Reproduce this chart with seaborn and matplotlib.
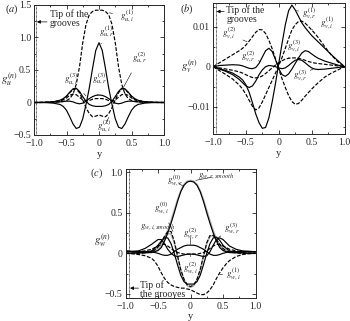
import matplotlib
matplotlib.use('Agg')
import matplotlib.pyplot as plt
import seaborn as sns
import numpy as np
from matplotlib.ticker import MultipleLocator, FuncFormatter

# ============================
# Data (grid of y positions shared by all curves)
# ============================

Y = [-1.0, -0.9, -0.8, -0.7, -0.6, -0.55, -0.5, -0.45, -0.4, -0.35, -0.3, -0.25,
     -0.2, -0.15, -0.1, -0.05, 0.0, 0.05, 0.1, 0.15, 0.2, 0.25, 0.3, 0.35, 0.4,
     0.45, 0.5, 0.55, 0.6, 0.7, 0.8, 0.9, 1.0]

# panel (a): g_u
u_i1 = [0, 0, 0.002, 0.005, 0.01, 0.015, 0.03, 0.06, 0.13, 0.28, 0.55, 0.92, 1.20, 1.35, 1.40, 1.42,
        1.42, 1.42, 1.40, 1.35, 1.20, 0.92, 0.55, 0.28, 0.13, 0.06, 0.03, 0.015, 0.01, 0.005, 0.002, 0, 0]
u_r1 = [0, 0, -0.003, -0.01, -0.03, -0.06, -0.12, -0.22, -0.33, -0.40, -0.38, -0.25, -0.03, 0.22, 0.52, 0.80,
        0.92, 0.80, 0.52, 0.22, -0.03, -0.25, -0.38, -0.40, -0.33, -0.22, -0.12, -0.06, -0.03, -0.01, -0.003, 0, 0]
u_i2 = [0, 0.001, 0.003, 0.01, 0.03, 0.05, 0.09, 0.15, 0.20, 0.21, 0.15, 0.04, -0.08, -0.17, -0.22, -0.21,
        -0.19, -0.21, -0.22, -0.17, -0.08, 0.04, 0.15, 0.21, 0.20, 0.15, 0.09, 0.05, 0.03, 0.01, 0.003, 0.001, 0]
u_r2 = [0, 0.001, 0.004, 0.012, 0.035, 0.06, 0.10, 0.16, 0.21, 0.22, 0.17, 0.09, 0.02, -0.03, -0.05, -0.06,
        -0.06, -0.06, -0.05, -0.03, 0.02, 0.09, 0.17, 0.22, 0.21, 0.16, 0.10, 0.06, 0.035, 0.012, 0.004, 0.001, 0]
u_r3 = [0, 0, 0.002, 0.005, 0.01, 0.015, 0.02, 0.02, 0.01, -0.01, -0.02, -0.01, 0.02, 0.06, 0.09, 0.11,
        0.115, 0.11, 0.09, 0.06, 0.02, -0.01, -0.02, -0.01, 0.01, 0.02, 0.02, 0.015, 0.01, 0.005, 0.002, 0, 0]
u_i3 = [0, 0.001, 0.003, 0.008, 0.02, 0.04, 0.07, 0.11, 0.13, 0.12, 0.08, 0.04, 0.02, 0.03, 0.05, 0.06,
        0.06, 0.06, 0.05, 0.03, 0.02, 0.04, 0.08, 0.12, 0.13, 0.11, 0.07, 0.04, 0.02, 0.008, 0.003, 0.001, 0]

# panel (b): g_v, in units of 1e-3
v_r1 = [0, -0.5, -1.0, -1.6, -2.6, -3.3, -4.5, -6.4, -9.0, -11.8, -14.0, -15.4, -15.2, -12.8, -8.8, -4.2,
        0.8, 5.8, 10.5, 14.0, 15.4, 14.2, 12.6, 11.0, 9.8, 8.8, 7.8, 7.0, 6.2, 4.6, 3.0, 1.5, 0]
v_i1 = [0, -1.0, -2.0, -3.1, -4.6, -5.6, -6.9, -8.4, -9.9, -10.8, -10.3, -8.8, -7.0, -5.2, -3.4, -1.6,
        0.3, 2.3, 4.6, 7.0, 9.2, 10.5, 11.3, 11.4, 10.9, 10.1, 9.2, 8.3, 7.3, 5.0, 2.9, 1.2, 0]
v_i2 = [0, 1.0, 2.0, 3.0, 4.0, 4.6, 5.4, 6.4, 7.5, 8.6, 9.3, 9.2, 8.3, 6.6, 4.5, 2.0,
        -0.6, -3.0, -5.2, -7.2, -8.7, -9.4, -9.2, -8.4, -7.4, -6.5, -5.6, -4.8, -4.0, -2.6, -1.6, -0.8, 0]
v_r2 = [0, 0.3, 0.4, 0.5, 0.4, 0.2, -0.1, -0.4, -0.5, -0.2, 0.8, 2.4, 4.0, 4.6, 3.8, 1.8,
        -0.5, -2.0, -2.4, -1.8, -0.6, 0.8, 2.2, 3.4, 4.0, 3.8, 3.2, 2.6, 2.1, 1.4, 0.9, 0.4, 0]
v_r3 = [0, -0.6, -1.2, -2.0, -3.2, -4.0, -4.8, -5.2, -4.8, -3.6, -2.0, -0.8, 0.0, 0.3, 0.2, 0.0,
        -0.3, -0.5, -0.3, 0.3, 1.0, 1.6, 1.8, 1.6, 1.0, 0.3, -0.3, -0.6, -0.7, -0.6, -0.4, -0.2, 0]
v_i3 = [0, -0.3, -0.6, -0.9, -1.3, -1.6, -2.0, -2.4, -2.7, -2.8, -2.7, -2.3, -1.7, -1.0, -0.3, 0.4,
        1.0, 1.5, 1.9, 2.1, 2.2, 2.2, 2.1, 1.9, 1.6, 1.3, 1.1, 0.9, 0.8, 0.6, 0.4, 0.2, 0]

# panel (c): g_w
w_r0 = [0.03, 0.02, 0.015, 0.01, 0.01, 0.02, 0.035, 0.07, 0.15, 0.25, 0.37, 0.50, 0.64, 0.76, 0.84, 0.88,
        0.89, 0.88, 0.84, 0.76, 0.64, 0.50, 0.37, 0.25, 0.15, 0.07, 0.035, 0.02, 0.01, 0.01, 0.015, 0.02, 0.02]
w_r_smooth = [0, 0, 0, 0, 0.01, 0.02, 0.04, 0.09, 0.17, 0.28, 0.40, 0.53, 0.66, 0.77, 0.85, 0.89,
              0.90, 0.89, 0.85, 0.77, 0.66, 0.53, 0.40, 0.28, 0.17, 0.09, 0.04, 0.02, 0.01, 0, 0, 0, 0]
w_i0 = [0, 0, 0, 0.005, 0.02, 0.04, 0.08, 0.14, 0.21, 0.27, 0.27, 0.15, -0.03, -0.20, -0.32, -0.39,
        -0.41, -0.39, -0.32, -0.20, -0.03, 0.13, 0.22, 0.22, 0.17, 0.11, 0.06, 0.03, 0.015, 0.005, 0, 0, 0]
w_i_smooth = [0, 0, 0, 0.005, 0.02, 0.04, 0.07, 0.12, 0.19, 0.24, 0.24, 0.13, -0.04, -0.21, -0.33, -0.40,
              -0.42, -0.40, -0.33, -0.21, -0.04, 0.12, 0.21, 0.22, 0.17, 0.11, 0.06, 0.03, 0.015, 0.005, 0, 0, 0]
w_r1 = [0, 0, 0.005, 0.01, 0.03, 0.06, 0.10, 0.15, 0.19, 0.19, 0.12, 0.0, -0.14, -0.27, -0.35, -0.38,
        -0.38, -0.38, -0.35, -0.27, -0.14, 0.0, 0.12, 0.19, 0.20, 0.16, 0.10, 0.06, 0.03, 0.01, 0.005, 0, 0]
w_i1 = [0, -0.005, -0.015, -0.03, -0.06, -0.10, -0.16, -0.24, -0.31, -0.36, -0.39, -0.41, -0.42, -0.43, -0.43, -0.44,
        -0.45, -0.47, -0.49, -0.51, -0.51, -0.49, -0.45, -0.39, -0.31, -0.24, -0.18, -0.13, -0.09, -0.04, -0.015, -0.005, 0]
w_r2 = [0.02, 0.02, 0.02, 0.02, 0.02, 0.01, 0.0, -0.015, -0.025, -0.025, -0.01, 0.02, 0.05, 0.07, 0.09, 0.10,
        0.10, 0.10, 0.09, 0.07, 0.05, 0.02, -0.01, -0.025, -0.025, -0.015, 0.0, 0.01, 0.02, 0.02, 0.02, 0.02, 0.02]
w_i2 = [0.02, 0.02, 0.02, 0.03, 0.05, 0.07, 0.09, 0.11, 0.11, 0.09, 0.06, 0.03, 0.01, 0.0, -0.01, -0.01,
        -0.01, -0.01, -0.01, 0.0, 0.01, 0.03, 0.06, 0.09, 0.11, 0.11, 0.09, 0.07, 0.05, 0.03, 0.02, 0.02, 0.02]
w_r3 = [0.03, 0.025, 0.03, 0.06, 0.11, 0.14, 0.17, 0.17, 0.12, 0.05, 0.0, -0.03, -0.04, -0.03, -0.02, -0.01,
        -0.01, -0.01, -0.02, -0.03, -0.04, -0.03, 0.02, 0.10, 0.17, 0.19, 0.17, 0.13, 0.09, 0.05, 0.03, 0.025, 0.02]

# ============================
# Plotting
# ============================

sns.set_style('ticks')
plt.rcParams['font.family'] = ['Liberation Serif', 'DejaVu Serif']
plt.rcParams['mathtext.fontset'] = 'stix'
plt.rcParams['xtick.direction'] = 'in'
plt.rcParams['ytick.direction'] = 'in'

fig = plt.figure(figsize=(3.5, 3.21), dpi=100)
W, H = 350.0, 321.0
ax_a = fig.add_axes([34 / W, 1 - 135 / H, 130 / W, 130 / H])
ax_b = fig.add_axes([213 / W, 1 - 134.3 / H, 131.5 / W, 131.6 / H])
ax_c = fig.add_axes([125.5 / W, 1 - 297.7 / H, 130 / W, 128.4 / H])

SOLID = '-'
DASH = (0, (3.2, 1.4))
LW = 0.85


def curve(ax, vals, ls, color='k', scale=1.0, lw=LW):
    sns.lineplot(x=Y, y=np.array(vals) * scale, ax=ax, color=color,
                 linestyle=ls, lw=lw, sort=False, estimator=None)


def fmt(dec):
    def f(v, p):
        if abs(v) < 1e-12:
            return '0'
        return (('{:.%df}' % dec).format(v)).replace('-', '\u2212')
    return FuncFormatter(f)


def style(ax, ylim, ymaj, ymin, ydec, wall):
    ax.set_xlim(-1.0, 1.0)
    ax.set_ylim(*ylim)
    ax.xaxis.set_major_locator(MultipleLocator(0.5))
    ax.xaxis.set_minor_locator(MultipleLocator(0.25))
    ax.yaxis.set_major_locator(MultipleLocator(ymaj))
    ax.yaxis.set_minor_locator(MultipleLocator(ymin))
    ax.xaxis.set_major_formatter(fmt(1))
    ax.yaxis.set_major_formatter(fmt(ydec))
    ax.tick_params(which='both', top=True, right=True, labelsize=7, pad=2, width=0.6)
    ax.tick_params(axis='x', which='major', pad=3)
    ax.tick_params(which='major', length=3)
    ax.tick_params(which='minor', length=1.5)
    for s in ax.spines.values():
        s.set_linewidth(0.7)
    ax.set_xlabel('y', fontsize=7.5, labelpad=1)
    ax.set_ylabel('')
    ax.axvspan(-1.0, -0.978, color='0.55', lw=0, zorder=1)
    ax.axvline(wall, color='k', ls=(0, (0.8, 0.8)), lw=0.6, zorder=1)


def lab(ax, txt, xy, xytext, fs=6.5):
    ax.annotate(txt, xy=xy, xytext=xytext, fontsize=fs, ha='center', va='center',
                arrowprops=dict(arrowstyle='-', lw=0.4, color='k', shrinkA=3, shrinkB=0))


def tip(ax, txt, tx, ty, ay, x0, x1):
    ax.text(tx, ty, txt, fontsize=7, ha='left', va='top', linespacing=1.0)
    ax.annotate('', xy=(x1, ay), xytext=(x0, ay),
                arrowprops=dict(arrowstyle='-|>', lw=0.5, color='k',
                                mutation_scale=5, shrinkA=0, shrinkB=0))


# ---- (a)
for vals, ls in [(u_i1, DASH), (u_r1, SOLID), (u_i2, DASH), (u_r2, SOLID),
                 (u_r3, SOLID), (u_i3, DASH)]:
    curve(ax_a, vals, ls)
style(ax_a, (-0.5, 1.5), 0.5, 0.25, 1, -0.965)
lab(ax_a, r'$g_{u,i}^{(1)}$', (0.16, 1.38), (0.43, 1.32))
lab(ax_a, r'$g_{u,r}^{(1)}$', (0.03, 0.9), (0.11, 1.08))
lab(ax_a, r'$g_{u,r}^{(2)}$', (0.38, 0.24), (0.62, 0.68))
lab(ax_a, r'$g_{u,r}^{(3)}$', (-0.02, 0.12), (0.0, 0.36))
lab(ax_a, r'$g_{u,i}^{(3)}$', (-0.2, 0.1), (-0.43, 0.36))
lab(ax_a, r'$g_{u,i}^{(2)}$', (0.15, -0.23), (0.08, -0.37))
tip(ax_a, 'Tip of the\ngrooves', -0.76, 1.44, 1.24, -0.8, -0.955)
fig.text(5 / W, 1 - 9 / H, r'($a$)', fontsize=7.5, va='center')
fig.text(1 / W, 1 - 80 / H, r'$g_u^{(n)}$', fontsize=8, va='center')

# ---- (b)
for vals, ls in [(v_r1, SOLID), (v_i1, DASH), (v_i2, DASH), (v_r2, SOLID),
                 (v_r3, SOLID), (v_i3, DASH)]:
    curve(ax_b, vals, ls, scale=1e-3)
style(ax_b, (-0.0169, 0.0160), 0.01, 0.005, 2, -0.955)
lab(ax_b, r'$g_{v,r}^{(1)}$', (0.27, 0.0140), (0.46, 0.0134))
lab(ax_b, r'$g_{v,i}^{(1)}$', (0.5, 0.0092), (0.73, 0.0108))
lab(ax_b, r'$g_{v,i}^{(2)}$', (-0.48, 0.0062), (-0.76, 0.0083))
lab(ax_b, r'$g_{v,r}^{(2)}$', (-0.28, 0.0013), (-0.47, 0.0025))
lab(ax_b, r'$g_{v,i}^{(3)}$', (0.15, 0.0021), (0.24, 0.0051))
lab(ax_b, r'$g_{v,r}^{(3)}$', (0.53, -0.0005), (0.32, -0.0023))
tip(ax_b, 'Tip of the\ngrooves', -0.8, 0.0154, 0.0138, -0.83, -0.945)
fig.text(180 / W, 1 - 9 / H, r'($b$)', fontsize=7.5, va='center')
fig.text(181 / W, 1 - 67 / H, r'$g_v^{(n)}$', fontsize=8, va='center')

# ---- (c)
curve(ax_c, w_r_smooth, SOLID, color='0.7', lw=1.2)
curve(ax_c, w_i_smooth, SOLID, color='0.7', lw=1.2)
for vals, ls in [(w_r0, SOLID), (w_i0, DASH), (w_r1, SOLID), (w_i1, DASH),
                 (w_r2, SOLID), (w_i2, DASH), (w_r3, SOLID)]:
    curve(ax_c, vals, ls)
style(ax_c, (-0.548, 1.037), 0.5, 0.25, 1, -0.94)
lab(ax_c, r'$g_{w,r,smooth}$', (0.08, 0.9), (0.39, 0.95))
lab(ax_c, r'$g_{w,r}^{(0)}$', (-0.1, 0.82), (-0.24, 0.9))
lab(ax_c, r'$g_{w,i}^{(0)}$', (-0.27, 0.27), (-0.45, 0.56))
lab(ax_c, r'$g_{w,i,smooth}$', (-0.37, 0.2), (-0.5, 0.32))
lab(ax_c, r'$g_{w,r}^{(2)}$', (0.0, 0.11), (0.0, 0.24))
lab(ax_c, r'$g_{w,r}^{(3)}$', (0.42, 0.19), (0.64, 0.31))
lab(ax_c, r'$g_{w,i}^{(2)}$', (0.0, -0.02), (0.0, -0.18))
lab(ax_c, r'$g_{w,i}^{(1)}$', (0.45, -0.26), (0.66, -0.27))
tip(ax_c, 'Tip of\nthe grooves', -0.77, -0.33, -0.43, -0.8, -0.93)
fig.text(90 / W, 1 - 173 / H, r'($c$)', fontsize=7.5, va='center')
fig.text(94 / W, 1 - 241 / H, r'$g_w^{(n)}$', fontsize=8, va='center')

fig.savefig('out.png', dpi=100)
